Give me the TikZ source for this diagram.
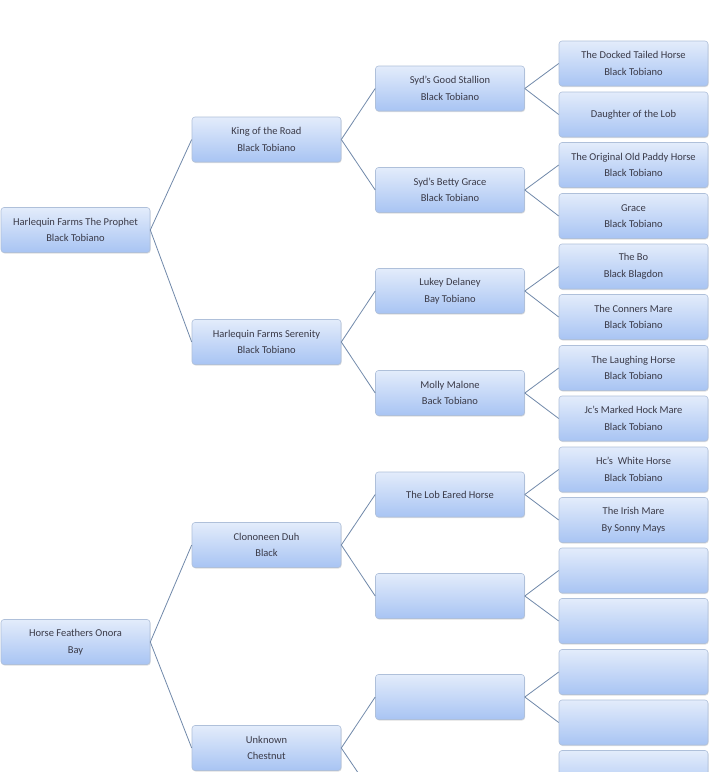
\documentclass[tikz,border=0pt]{standalone}
\usepackage{fontspec}
\setmainfont{Carlito}
\usetikzlibrary{shadows}
\definecolor{boxtop}{HTML}{E3ECFB}
\definecolor{boxbot}{HTML}{A8C4F3}
\definecolor{boxline}{HTML}{AFC0DA}
\definecolor{conn}{HTML}{7189AA}
\definecolor{txt}{HTML}{3A3A48}
\tikzset{
  horse/.style={rectangle, rounded corners=3pt, draw=boxline, line width=0.6pt,
    top color=boxtop, bottom color=boxbot, minimum width=149pt, minimum height=45pt,
    inner sep=0pt, align=center, text=txt, font=\fontsize{10.5}{16.5}\selectfont,
    drop shadow={shadow xshift=0.6pt, shadow yshift=-1pt, opacity=0.25, fill=gray}},
  link/.style={draw=conn, line width=0.8pt}
}
\begin{document}
\begin{tikzpicture}[x=1pt,y=1pt]
\useasboundingbox (0,0) rectangle (712,-772);
\clip (0,0) rectangle (712,-772);
\fill[white] (0,0) rectangle (712,-772);
% column 1
\node[horse] (p)  at (75.5,-230) {Harlequin Farms The Prophet\\Black Tobiano};
\node[horse] (hf) at (75.5,-642) {Horse Feathers Onora\\Bay};
% column 2
\node[horse] (kr) at (266.5,-139.5) {King of the Road\\Black Tobiano};
\node[horse] (hs) at (266.5,-342) {Harlequin Farms Serenity\\Black Tobiano};
\node[horse] (cd) at (266.5,-545) {Clononeen Duh\\Black};
\node[horse] (un) at (266.5,-748) {Unknown\\Chestnut};
% column 3
\node[horse] (sg) at (450,-88.5) {Syd's Good Stallion\\Black Tobiano};
\node[horse] (sb) at (450,-190) {Syd's Betty Grace\\Black Tobiano};
\node[horse] (ld) at (450,-291) {Lukey Delaney\\Bay Tobiano};
\node[horse] (mm) at (450,-393) {Molly Malone\\Back Tobiano};
\node[horse] (le) at (450,-494.5) {The Lob Eared Horse};
\node[horse] (b1) at (450,-596) {};
\node[horse] (b2) at (450,-697) {};
\node[horse] (b3) at (450,-798) {};
% column 4
\node[horse] (g1)  at (633.5,-63.5) {The Docked Tailed Horse\\Black Tobiano};
\node[horse] (g2)  at (633.5,-114.5) {Daughter of the Lob};
\node[horse] (g3)  at (633.5,-165) {The Original Old Paddy Horse\\Black Tobiano};
\node[horse] (g4)  at (633.5,-216) {Grace\\Black Tobiano};
\node[horse] (g5)  at (633.5,-266.5) {The Bo\\Black Blagdon};
\node[horse] (g6)  at (633.5,-317) {The Conners Mare\\Black Tobiano};
\node[horse] (g7)  at (633.5,-368) {The Laughing Horse\\Black Tobiano};
\node[horse] (g8)  at (633.5,-418.5) {Jc's Marked Hock Mare\\Black Tobiano};
\node[horse] (g9)  at (633.5,-469.5) {Hc's\ \ White Horse\\Black Tobiano};
\node[horse] (g10) at (633.5,-520) {The Irish Mare\\By Sonny Mays};
\node[horse] (g11) at (633.5,-570.5) {};
\node[horse] (g12) at (633.5,-621) {};
\node[horse] (g13) at (633.5,-672) {};
\node[horse] (g14) at (633.5,-722.5) {};
\node[horse] (g15) at (633.5,-773) {};
% connectors
\draw[link] (p.east) -- (kr.west);
\draw[link] (p.east) -- (hs.west);
\draw[link] (hf.east) -- (cd.west);
\draw[link] (hf.east) -- (un.west);
\draw[link] (kr.east) -- (sg.west);
\draw[link] (kr.east) -- (sb.west);
\draw[link] (hs.east) -- (ld.west);
\draw[link] (hs.east) -- (mm.west);
\draw[link] (cd.east) -- (le.west);
\draw[link] (cd.east) -- (b1.west);
\draw[link] (un.east) -- (b2.west);
\draw[link] (un.east) -- (b3.west);
\draw[link] (sg.east) -- (g1.west);
\draw[link] (sg.east) -- (g2.west);
\draw[link] (sb.east) -- (g3.west);
\draw[link] (sb.east) -- (g4.west);
\draw[link] (ld.east) -- (g5.west);
\draw[link] (ld.east) -- (g6.west);
\draw[link] (mm.east) -- (g7.west);
\draw[link] (mm.east) -- (g8.west);
\draw[link] (le.east) -- (g9.west);
\draw[link] (le.east) -- (g10.west);
\draw[link] (b1.east) -- (g11.west);
\draw[link] (b1.east) -- (g12.west);
\draw[link] (b2.east) -- (g13.west);
\draw[link] (b2.east) -- (g14.west);
\draw[link] (b3.east) -- (g15.west);
\end{tikzpicture}
\end{document}
